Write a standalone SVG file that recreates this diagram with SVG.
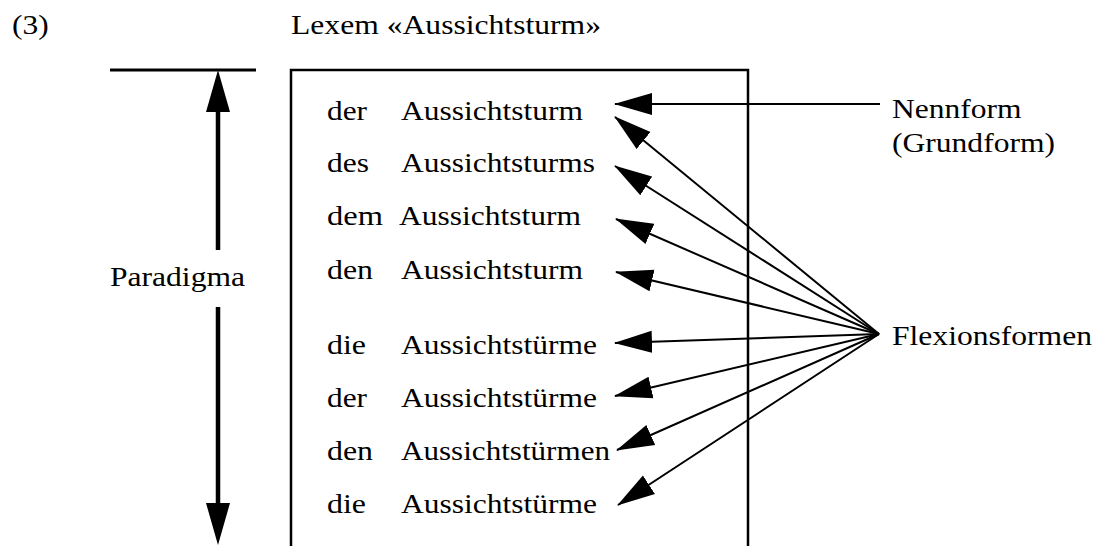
<svg xmlns="http://www.w3.org/2000/svg" width="1096" height="546" viewBox="0 0 1096 546">
  <style>
    text { font-family: 'Liberation Serif', 'Times New Roman', Times, serif; font-size: 28px; fill: #000; }
    .frame { fill: none; stroke: #000; stroke-width: 2.5; }
    .rule { stroke: #000; stroke-width: 3; }
    .shaft { stroke: #000; stroke-width: 4.5; }
    .conn { stroke: #000; stroke-width: 2; fill: none; }
    .head { fill: #000; }
  </style>
  <defs>
    <marker id="arrow" markerUnits="userSpaceOnUse" viewBox="0 -12 38 24" refX="37" refY="0" markerWidth="38" markerHeight="24" orient="auto">
      <path d="M0,-11 L38,0 L0,11 Z" fill="#000"/>
    </marker>
  </defs>
  <rect width="1096" height="546" fill="#fff"/>

  <g id="heading">
    <text x="12" y="34" textLength="36.7" lengthAdjust="spacingAndGlyphs">(3)</text>
    <text x="291" y="34" textLength="310" lengthAdjust="spacingAndGlyphs">Lexem «Aussichtsturm»</text>
  </g>

  <g id="paradigma">
    <line class="rule" x1="110" y1="70" x2="256" y2="70"/>
    <line class="shaft" x1="218" y1="108" x2="218" y2="250"/>
    <polygon class="head" points="206,112 230,112 218,70"/>
    <line class="shaft" x1="218" y1="307" x2="218" y2="507"/>
    <polygon class="head" points="206,503 230,503 218,545"/>
    <text x="110" y="286" textLength="135" lengthAdjust="spacingAndGlyphs">Paradigma</text>
  </g>

  <g id="lexem-box">
    <path class="frame" d="M291,550 V70 H748 V550"/>
  </g>

  <g id="row1">
    <text x="327" y="120" textLength="40" lengthAdjust="spacingAndGlyphs">der</text>
    <text x="401" y="120" textLength="182" lengthAdjust="spacingAndGlyphs">Aussichtsturm</text>
  </g>
  <g id="row2">
    <text x="327" y="172" textLength="42" lengthAdjust="spacingAndGlyphs">des</text>
    <text x="401" y="172" textLength="194" lengthAdjust="spacingAndGlyphs">Aussichtsturms</text>
  </g>
  <g id="row3">
    <text x="327" y="225" textLength="56" lengthAdjust="spacingAndGlyphs">dem</text>
    <text x="399" y="225" textLength="182" lengthAdjust="spacingAndGlyphs">Aussichtsturm</text>
  </g>
  <g id="row4">
    <text x="327" y="279" textLength="46" lengthAdjust="spacingAndGlyphs">den</text>
    <text x="401" y="279" textLength="182" lengthAdjust="spacingAndGlyphs">Aussichtsturm</text>
  </g>
  <g id="row5">
    <text x="327" y="354" textLength="39" lengthAdjust="spacingAndGlyphs">die</text>
    <text x="401" y="354" textLength="196" lengthAdjust="spacingAndGlyphs">Aussichtstürme</text>
  </g>
  <g id="row6">
    <text x="327" y="407" textLength="40" lengthAdjust="spacingAndGlyphs">der</text>
    <text x="401" y="407" textLength="196" lengthAdjust="spacingAndGlyphs">Aussichtstürme</text>
  </g>
  <g id="row7">
    <text x="327" y="460" textLength="46" lengthAdjust="spacingAndGlyphs">den</text>
    <text x="401" y="460" textLength="209" lengthAdjust="spacingAndGlyphs">Aussichtstürmen</text>
  </g>
  <g id="row8">
    <text x="327" y="513" textLength="39" lengthAdjust="spacingAndGlyphs">die</text>
    <text x="401" y="513" textLength="196" lengthAdjust="spacingAndGlyphs">Aussichtstürme</text>
  </g>

  <g id="nennform">
    <text x="892" y="118" textLength="129.5" lengthAdjust="spacingAndGlyphs">Nennform</text>
    <text x="892" y="152" textLength="163" lengthAdjust="spacingAndGlyphs">(Grundform)</text>
  </g>

  <g id="flexionsformen">
    <text x="892" y="345" textLength="200" lengthAdjust="spacingAndGlyphs">Flexionsformen</text>
  </g>

  <g id="connectors">
    <line class="conn" x1="880" y1="104" x2="615" y2="104" marker-end="url(#arrow)"/>
    <line class="conn" x1="879" y1="334" x2="615" y2="117" marker-end="url(#arrow)"/>
    <line class="conn" x1="879" y1="334" x2="615" y2="166" marker-end="url(#arrow)"/>
    <line class="conn" x1="879" y1="334" x2="616" y2="219" marker-end="url(#arrow)"/>
    <line class="conn" x1="879" y1="334" x2="616" y2="272" marker-end="url(#arrow)"/>
    <line class="conn" x1="879" y1="334" x2="615" y2="343" marker-end="url(#arrow)"/>
    <line class="conn" x1="879" y1="334" x2="615" y2="396" marker-end="url(#arrow)"/>
    <line class="conn" x1="879" y1="334" x2="617" y2="450" marker-end="url(#arrow)"/>
    <line class="conn" x1="879" y1="334" x2="618" y2="505" marker-end="url(#arrow)"/>
  </g>
</svg>
